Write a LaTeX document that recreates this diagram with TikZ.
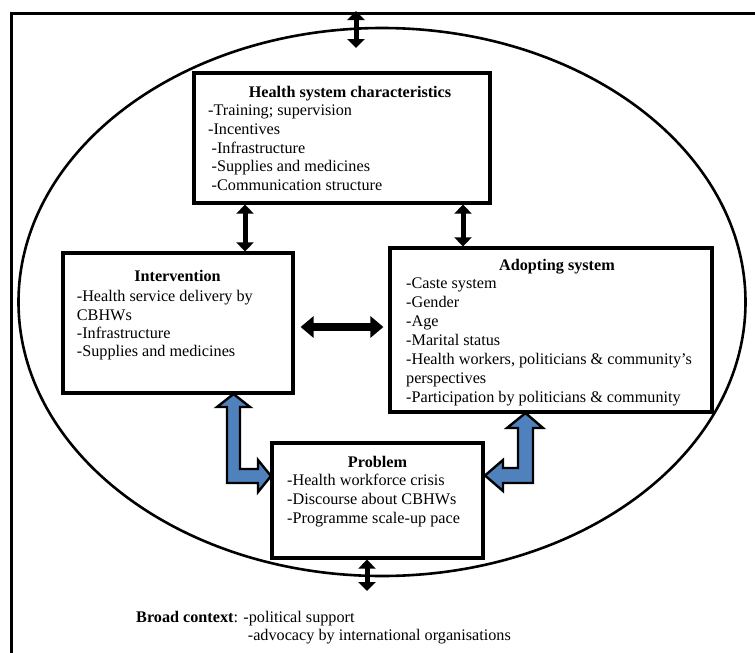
\documentclass[tikz,border=0pt]{standalone}
\usepackage{fontspec}
\setmainfont{Liberation Serif}
\usetikzlibrary{arrows.meta,shapes.geometric}
\definecolor{arrowblue}{HTML}{4F81BD}
\begin{document}
\begin{tikzpicture}[x=1pt,y=-1pt,
  box/.style={draw, line width=3.2pt, rectangle, inner sep=0pt},
  ttl/.style={anchor=base, inner sep=0pt, font=\fontsize{16.2}{18.6}\selectfont\bfseries},
  items/.style={anchor=north west, align=left, inner sep=0pt, font=\fontsize{16.2}{#1}\selectfont},
  line/.style={anchor=base west, inner sep=0pt, font=\fontsize{16.2}{18.6}\selectfont},
  dbl/.style={{Triangle[width=17pt,length=9pt]}-{Triangle[width=17pt,length=9pt]}, line width=5pt},
  dblthick/.style={{Triangle[width=21pt,length=13pt]}-{Triangle[width=21pt,length=13pt]}, line width=8pt},
  bluearrow/.style={fill=arrowblue, draw=black, line width=2.4pt, line join=miter}
]
\useasboundingbox (0,0) rectangle (755,653);
% outer frame (broad context)
\coordinate (fbl) at (11.5,653);
\coordinate (ftl) at (11.5,13.5);
\coordinate (ftr) at (755,13.5);
\draw[line width=3.2pt] (fbl) -- (ftl) -- (ftr);
% ellipse
\node[draw, ellipse, line width=2.6pt, minimum width=727pt, minimum height=548pt, inner sep=0pt] (ctx) at (382,302) {};

% boxes
\node[box, minimum width=296pt, minimum height=130pt] (hs) at (342,138) {};
\node[box, minimum width=230pt, minimum height=140pt] (int) at (178,323) {};
\node[box, minimum width=322pt, minimum height=164pt] (ad) at (551,330) {};
\node[box, minimum width=211pt, minimum height=115pt] (pr) at (377.5,500.5) {};

% texts
\node[ttl] (hsT) at (350,97.7) {Health system characteristics};
\node[items=18.6] (hsI) at (208,102.7) {\rule{0pt}{13pt}-Training; supervision\\-Incentives\\\hspace{3.5pt}-Infrastructure\\\hspace{3.5pt}-Supplies and medicines\\\hspace{3.5pt}-Communication structure};

\node[ttl] (intT) at (177.5,281.7) {Intervention};
\node[items=18.1] (intI) at (76.7,288.7) {\rule{0pt}{13pt}-Health service delivery by\\CBHWs\\-Infrastructure\\-Supplies and medicines};

\node[ttl] (adT) at (557,270) {Adopting system};
\node[items=19] (adI) at (406,275) {\rule{0pt}{13pt}-Caste system\\-Gender\\-Age\\-Marital status\\-Health workers, politicians \& community’s\\perspectives\\-Participation by politicians \& community};

\node[ttl] (prT) at (377.5,467.7) {Problem};
\node[items=19] (prI) at (287,472) {\rule{0pt}{13pt}-Health workforce crisis\\-Discourse about CBHWs\\-Programme scale-up pace};

\node[line] (bc1) at (136,622) {\textbf{Broad context}: -political support};
\node[line] (bc2) at (247.7,640) {-advocacy by international organisations};

% black double arrows
\coordinate (topA) at (356,11);
\coordinate (topB) at (356,48);
\draw[dbl] (topA) -- (topB);
\draw[dbl] ([xshift=-97pt]hs.south) -- ([xshift=67pt]int.north);
\draw[dbl] ([xshift=121pt]hs.south) -- ([xshift=-88pt]ad.north);
\draw[dblthick, shorten <=6pt, shorten >=5pt] ([yshift=-4pt]int.east) -- ([yshift=3pt]ad.west);
\coordinate (botB) at (367,591);
\draw[dbl] ([xshift=-10.5pt]pr.south) -- (botB);

% blue bent double arrows
\draw[bluearrow] (233.5,394) -- (250,407) -- (240,407) -- (240,469) -- (258,469) -- (258,460) -- (271,476) -- (258,492) -- (258,483) -- (227,483) -- (227,407) -- (217,407) -- cycle;
\draw[bluearrow] (525.5,413) -- (543,428) -- (533,428) -- (533,483) -- (503,483) -- (503,491) -- (485,475.5) -- (503,460) -- (503,468) -- (518,468) -- (518,428) -- (507,428) -- cycle;
\end{tikzpicture}
\end{document}
